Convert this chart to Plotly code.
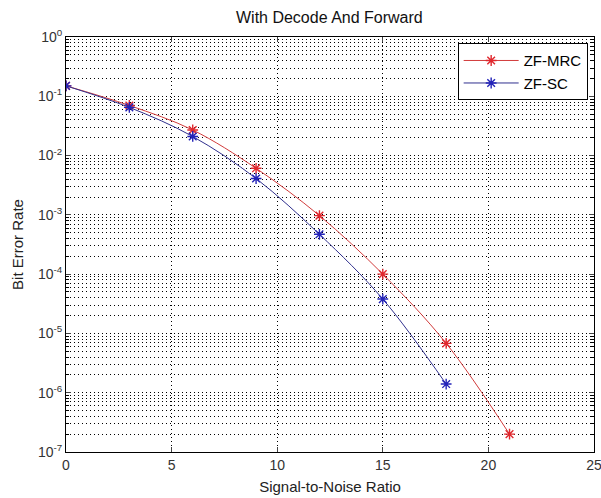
import plotly.graph_objects as go

snr = [0, 3, 6, 9, 12, 15, 18, 21]
ber_mrc = [0.15, 0.070, 0.027, 0.0061, 0.00097, 1.0e-4, 6.8e-6, 2.0e-7]
snr_sc = [0, 3, 6, 9, 12, 15, 18]
ber_sc = [0.15, 0.065, 0.021, 0.0041, 0.00047, 3.8e-5, 1.4e-6]

ytick_vals = [1e0, 1e-1, 1e-2, 1e-3, 1e-4, 1e-5, 1e-6, 1e-7]
ytick_text = ["10<sup>0</sup>", "10<sup>-1</sup>", "10<sup>-2</sup>", "10<sup>-3</sup>",
              "10<sup>-4</sup>", "10<sup>-5</sup>", "10<sup>-6</sup>", "10<sup>-7</sup>"]
xtick_vals = [0, 5, 10, 15, 20, 25]

red = "#e0282e"
blue = "#2323b8"
fig = go.Figure()
fig.add_trace(go.Scatter(
    x=snr, y=ber_mrc, name="ZF-MRC", mode="lines+markers",
    line=dict(color="#d23c3c", width=1, shape="spline"),
    marker=dict(symbol="asterisk-open", size=9, color=red, line=dict(color=red, width=1.4))))
fig.add_trace(go.Scatter(
    x=snr_sc, y=ber_sc, name="ZF-SC", mode="lines+markers",
    line=dict(color="#30308e", width=1, shape="spline"),
    marker=dict(symbol="asterisk-open", size=9, color=blue, line=dict(color=blue, width=1.4))))

font = "Liberation Sans, Arial, sans-serif"
dotted = "1px,3px"
fig.update_layout(
    width=601, height=498,
    paper_bgcolor="white", plot_bgcolor="white",
    margin=dict(l=66, r=7, t=37, b=46),
    font=dict(family=font, size=12, color="black"),
    title=dict(text="With Decode And Forward", x=0.548, xanchor="center",
               y=1 - 17 / 498, yanchor="middle", font=dict(size=16, family=font, color="#111")),
    showlegend=True,
    legend=dict(x=0.988, y=0.985, xanchor="right", yanchor="top",
                bordercolor="black", borderwidth=1, bgcolor="white",
                font=dict(size=15, family=font), tracegroupgap=0, itemwidth=55),
    xaxis=dict(range=[0, 25], tickvals=xtick_vals, ticks="inside", ticklen=5,
               showline=True, linecolor="black", linewidth=1, mirror="ticks",
               showgrid=True, gridcolor="black", griddash=dotted, gridwidth=1,
               zeroline=False, automargin=False, ticklabeloverflow="allow",
               tickfont=dict(size=14, family=font, color="#333"),
               title=dict(text="Signal-to-Noise Ratio", font=dict(size=15, family=font, color="#222"), standoff=9)),
    yaxis=dict(type="log", range=[-7, 0], tickvals=ytick_vals, ticktext=ytick_text,
               ticks="inside", ticklen=5,
               showline=True, linecolor="black", linewidth=1, mirror="ticks",
               showgrid=True, gridcolor="black", griddash=dotted, gridwidth=1,
               zeroline=False, automargin=False,
               tickfont=dict(size=14, family=font, color="#333"),
               minor=dict(dtick="D1", ticks="inside", ticklen=3, showgrid=True, gridcolor="black",
                          griddash=dotted, gridwidth=1, tickcolor="black"),
               title=dict(text="Bit Error Rate", font=dict(size=15, family=font, color="#222"), standoff=10)),
)
fig.write_html("out.html", config={"displayModeBar": False},
               post_script="document.body.style.margin='0';document.body.style.padding='0';")
